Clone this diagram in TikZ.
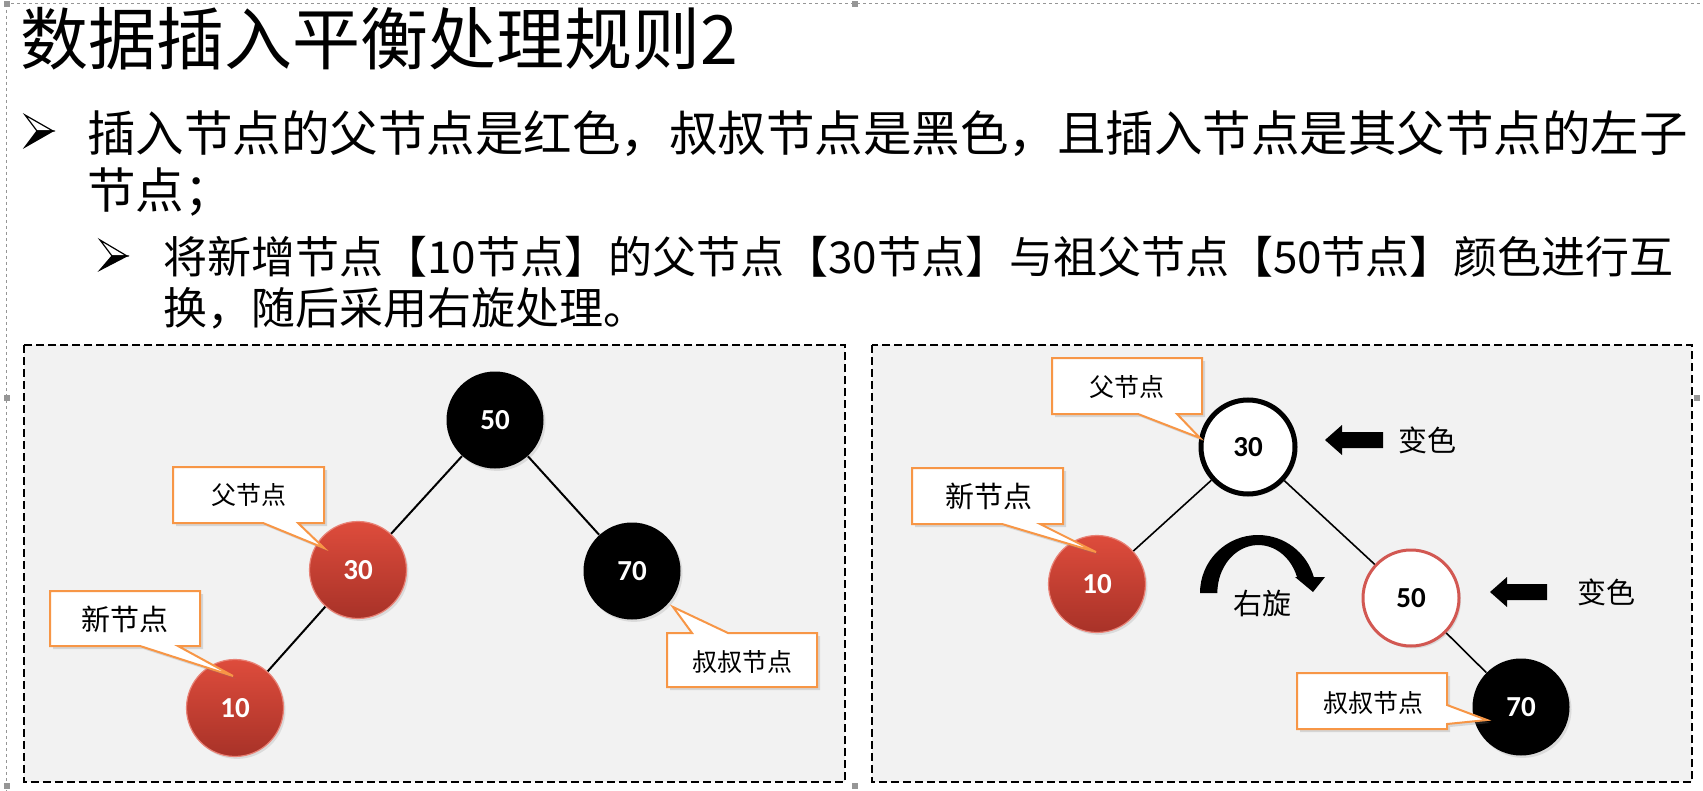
\documentclass[tikz,border=0pt]{standalone}
\usepackage{fontspec}
\setmainfont{Noto Sans CJK SC}
\newfontfamily\numfont{Carlito}
\usetikzlibrary{shadows}
\definecolor{panelgray}{RGB}{242,242,242}
\definecolor{calloutorange}{RGB}{247,150,70}
\definecolor{redtop}{RGB}{222,76,60}
\definecolor{redbot}{RGB}{168,50,40}
\definecolor{ringred}{RGB}{210,88,82}
\definecolor{framegray}{RGB}{150,150,150}
\begin{document}
\begin{tikzpicture}[x=0.5pt,y=-0.5pt,
  panel/.style={fill=panelgray, draw=black, line width=1pt, dash pattern=on 4pt off 2pt},
  numfont/.style={font=\numfont\bfseries\fontsize{14.5}{14.5}\selectfont},
  nodeshadow/.style={drop shadow={opacity=0.2, shadow xshift=1pt, shadow yshift=-1.2pt}},
  rednode/.style={circle, minimum size=48.5pt, inner sep=0pt, top color=redtop, bottom color=redbot, draw=redtop!70!white, line width=0.6pt, text=white, numfont, nodeshadow},
  blacknode/.style={circle, minimum size=48.5pt, inner sep=0pt, fill=black, text=white, numfont, nodeshadow},
  whitenode/.style={circle, minimum size=47pt, inner sep=0pt, fill=white, draw=black, line width=2.5pt, text=black, numfont, nodeshadow},
  ringnode/.style={circle, minimum size=48pt, inner sep=0pt, fill=white, draw=ringred, line width=1.5pt, text=black, numfont, nodeshadow},
  treeedge/.style={draw=black, line width=1pt},
  callout/.style={fill=white, draw=calloutorange, line width=1pt, line join=miter, drop shadow={opacity=0.25, shadow xshift=1.5pt, shadow yshift=-1.5pt}},
  calltext/.style={inner sep=0pt, text=black},
  linetext/.style={inner sep=0pt, anchor=base west, text=black},
  frameline/.style={draw=framegray, line width=0.5pt, dash pattern=on 1.5pt off 1.5pt},
  handle/.style={fill=framegray},
  bulletline/.style={draw=black, line width=0.6pt, line join=miter, fill=white},
  bulletfill/.style={fill=black, draw=black, line width=0.6pt, line join=miter}
]
\useasboundingbox (0,0) rectangle (1703,791);
\fill[white] (0,0) rectangle (1703,791);

% slide frame
\draw[frameline] (5,4) -- (1703,4);
\draw[frameline] (6,4) -- (6,791);
\foreach \hx/\hy in {7/4, 855/4, 7/398, 1697/398, 7/786, 855/786}
  \fill[handle] (\hx-3,\hy-3) rectangle (\hx+3,\hy+3);

% title
\node[linetext, font=\fontsize{34}{34}\selectfont] (title) at (20,65) {数据插入平衡处理规则2};

% bullet marks (3-D arrowheads)
\draw[bulletline] (25,115) -- (53,131) -- (37,131) -- cycle;
\draw[bulletfill] (37,131) -- (53,131) -- (25,147) -- cycle;
\draw[bulletline] (100,240) -- (127,256) -- (112,256) -- cycle;
\draw[bulletfill] (112,256) -- (127,256) -- (100,270) -- cycle;

% bullet texts
\node[linetext, font=\fontsize{24.25}{24.25}\selectfont] (l1a) at (87,152) {插入节点的父节点是红色，叔叔节点是黑色，且插入节点是其父节点的左子};
\node[linetext, font=\fontsize{24.25}{24.25}\selectfont] (l1b) at (87,209) {节点；};
\node[linetext, font=\fontsize{22}{22}\selectfont] (l2a) at (163,274) {将新增节点【10节点】的父节点【30节点】与祖父节点【50节点】颜色进行互};
\node[linetext, font=\fontsize{22}{22}\selectfont] (l2b) at (163,325) {换，随后采用右旋处理。};

% panels
\draw[panel] (24,345) rectangle (845,782);
\draw[panel] (872,345) rectangle (1692,782);

% left tree
\node[blacknode] (a50) at (495,420) {50};
\node[rednode] (a30) at (358,570) {30};
\node[blacknode] (a70) at (632,571) {70};
\node[rednode] (a10) at (235,708) {10};
\draw[treeedge] (a50) -- (a30);
\draw[treeedge] (a50) -- (a70);
\draw[treeedge] (a30) -- (a10);

% left callouts
\draw[callout] (173,467) -- (324,467) -- (324,523) -- (298,523) -- (324,548) -- (263,523) -- (173,523) -- cycle;
\node[calltext, font=\fontsize{12.5}{12.5}\selectfont] (cLa) at (249,495) {父节点};
\draw[callout] (50,591) -- (200,591) -- (200,646) -- (178,646) -- (233,676) -- (140,646) -- (50,646) -- cycle;
\node[calltext, font=\fontsize{14.5}{14.5}\selectfont] (cLb) at (125,619) {新节点};
\draw[callout] (667,633) -- (692,633) -- (673,607) -- (728,633) -- (817,633) -- (817,687) -- (667,687) -- cycle;
\node[calltext, font=\fontsize{12.5}{12.5}\selectfont] (cLc) at (742,662) {叔叔节点};

% right tree
\node[whitenode] (b30) at (1248,447) {30};
\node[rednode] (b10) at (1097,584) {10};
\node[ringnode] (b50) at (1411,598) {50};
\node[blacknode] (b70) at (1521,707) {70};
\draw[treeedge, line width=0.8pt] (b30) -- (b10);
\draw[treeedge, line width=0.8pt] (b30) -- (b50);
\draw[treeedge, line width=0.8pt] (b50) -- (b70);

% right callouts
\draw[callout] (1052,358) -- (1202,358) -- (1202,414) -- (1177,414) -- (1200,438) -- (1138,414) -- (1052,414) -- cycle;
\node[calltext, font=\fontsize{12.5}{12.5}\selectfont] (cRa) at (1127,387) {父节点};
\draw[callout] (912,468) -- (1063,468) -- (1063,524) -- (1040,524) -- (1096,552) -- (1002,524) -- (912,524) -- cycle;
\node[calltext, font=\fontsize{14.5}{14.5}\selectfont] (cRb) at (989,496) {新节点};
\draw[callout] (1297,673) -- (1447,673) -- (1447,705) -- (1487,720) -- (1447,724) -- (1447,729) -- (1297,729) -- cycle;
\node[calltext, font=\fontsize{12.5}{12.5}\selectfont] (cRc) at (1373,703) {叔叔节点};

% colour-change arrows
\fill[black] (1325,440) -- (1342,425) -- (1342,432) -- (1383,432) -- (1383,448) -- (1342,448) -- (1342,455) -- cycle;
\node[calltext, font=\fontsize{14.5}{14.5}\selectfont] (bs1) at (1427,440) {变色};
\fill[black] (1490,592) -- (1507,577) -- (1507,584) -- (1547,584) -- (1547,600) -- (1507,600) -- (1507,607) -- cycle;
\node[calltext, font=\fontsize{14.5}{14.5}\selectfont] (bs2) at (1606,592) {变色};

% rotation arrow
\fill[black] (1200,593) arc[start angle=180, end angle=344, radius=58] -- (1325,577) -- (1313,592) -- (1295,577) -- (1297,577) arc[start angle=340.5, end angle=180, x radius=41, y radius=48] -- cycle;
\node[calltext, font=\fontsize{14.5}{14.5}\selectfont] (rot) at (1262,603) {右旋};
\end{tikzpicture}
\end{document}
